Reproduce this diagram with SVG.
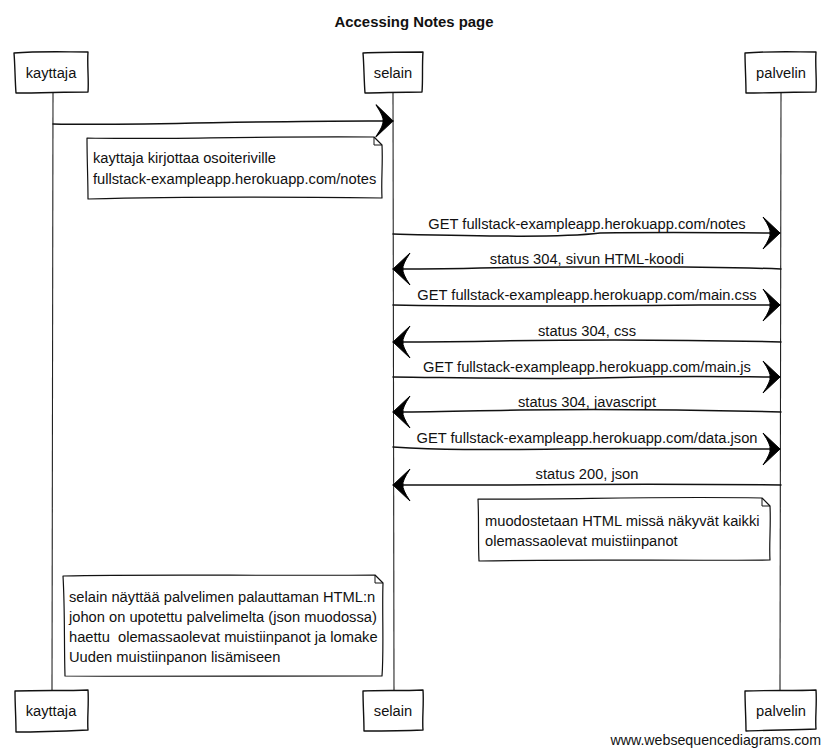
<svg xmlns="http://www.w3.org/2000/svg" width="830" height="755" viewBox="0 0 830 755">
  <style>
    text { font-family: "Liberation Sans", Arial, sans-serif; font-size: 14.7px; fill: #111; }
    .title { font-size: 14.9px; font-weight: bold; text-anchor: middle; }
    .lbl { text-anchor: middle; }
    .actor text { text-anchor: middle; }
    .foot { font-size: 14.2px; text-anchor: end; }
    .box { fill: #fff; stroke: #111; stroke-width: 1.4; stroke-linejoin: round; }
    .life { fill: none; stroke: #222; stroke-width: 1.1; }
    .msg { fill: none; stroke: #111; stroke-width: 1.5; stroke-linecap: round; }
    .note { fill: #fff; stroke: #111; stroke-width: 1.2; stroke-linejoin: round; }
    .fold { fill: none; stroke: #111; stroke-width: 1; }
  </style>
  <defs>
    <marker id="head" markerUnits="userSpaceOnUse" markerWidth="30" markerHeight="40" viewBox="-20 -20 22 40" refX="0" refY="0" orient="auto">
      <path d="M0,0 L-17,-16 Q-9,-4 -10,0 Q-9,4 -17,16 Z" fill="#000" stroke="#000" stroke-width="1" stroke-linejoin="round"/>
    </marker>
  </defs>

  <rect width="830" height="755" fill="#fff"/>
  <text class="title" x="414" y="27">Accessing Notes page</text>

  <!-- lifelines -->
  <g id="lifelines">
    <path class="life" d="M53,93 C53,300 52,500 52,690"/>
    <path class="life" d="M393,92 C394,300 393,500 394,690"/>
    <path class="life" d="M781,92 C780,300 781,500 780,690"/>
  </g>

  <!-- participants, top and bottom -->
  <g id="kayttaja" class="actor">
    <path class="box" d="M14,53 C40,51 65,52 88,52 C87,65 89,80 88,92 C65,92 40,93 16,93 C15,80 15,65 14,53 Z"/>
    <text x="51" y="78">kayttaja</text>
    <path class="box" d="M15,691 C40,690 65,691 88,690 C89,705 87,718 88,730 C65,731 40,732 16,732 C16,718 15,705 15,691 Z"/>
    <text x="51" y="716">kayttaja</text>
  </g>
  <g id="selain" class="actor">
    <path class="box" d="M363,53 C380,52 400,52 423,52 C422,65 423,80 422,92 C400,92 380,93 365,93 C364,80 364,65 363,53 Z"/>
    <text x="393" y="78">selain</text>
    <path class="box" d="M363,691 C380,690 400,691 423,690 C424,705 422,718 423,730 C400,731 380,731 364,731 C364,718 363,705 363,691 Z"/>
    <text x="393" y="716">selain</text>
  </g>
  <g id="palvelin" class="actor">
    <path class="box" d="M745,53 C770,51 795,52 816,52 C815,65 817,80 816,92 C795,92 770,93 746,93 C746,80 745,65 745,53 Z"/>
    <text x="781" y="78">palvelin</text>
    <path class="box" d="M745,691 C770,690 795,691 816,690 C817,705 815,718 816,729 C795,730 770,730 746,731 C746,718 745,705 745,691 Z"/>
    <text x="781" y="716">palvelin</text>
  </g>

  <!-- messages -->
  <g id="connectors">
    <path class="msg" marker-end="url(#head)" d="M53,124 C150,126 260,120 393,121"/>
    <path class="msg" marker-end="url(#head)" d="M393,234 C480,236 560,238 600,233 C680,232 740,233 780,233"/>
    <path class="msg" marker-end="url(#head)" d="M781,269 C700,266 600,266 480,268 C450,269 420,269 393,269"/>
    <path class="msg" marker-end="url(#head)" d="M393,305 C500,307 600,306 700,305 C740,305 760,305 780,305"/>
    <path class="msg" marker-end="url(#head)" d="M781,342 C700,340 600,339 500,341 C450,342 420,342 393,342"/>
    <path class="msg" marker-end="url(#head)" d="M393,377 C480,378 560,380 640,377 C700,376 750,377 780,377"/>
    <path class="msg" marker-end="url(#head)" d="M781,412 C700,410 600,409 520,410 C460,411 420,412 393,412"/>
    <path class="msg" marker-end="url(#head)" d="M393,447 C440,450 480,450 560,449 C650,448 720,449 780,449"/>
    <path class="msg" marker-end="url(#head)" d="M781,485 C700,484 600,484 500,485 C450,485 420,485 393,485"/>
  </g>

  <!-- message labels -->
  <g id="labels">
    <text class="lbl" x="587" y="229">GET fullstack-exampleapp.herokuapp.com/notes</text>
    <text class="lbl" x="587" y="264">status 304, sivun HTML-koodi</text>
    <text class="lbl" x="587" y="300">GET fullstack-exampleapp.herokuapp.com/main.css</text>
    <text class="lbl" x="587" y="336">status 304, css</text>
    <text class="lbl" x="587" y="372">GET fullstack-exampleapp.herokuapp.com/main.js</text>
    <text class="lbl" x="587" y="407">status 304, javascript</text>
    <text class="lbl" x="587" y="443">GET fullstack-exampleapp.herokuapp.com/data.json</text>
    <text class="lbl" x="587" y="479">status 200, json</text>
  </g>

  <!-- notes -->
  <g id="note1">
    <path class="note" d="M87,138 C150,140 250,136 374,137 L382,145 C383,165 381,180 382,198 C300,197 200,196 88,199 C88,180 87,160 87,138 Z"/>
    <path class="fold" d="M374,137 L374,145 L382,145"/>
    <text x="93" y="163">kayttaja kirjottaa osoiteriville</text>
    <text x="93" y="184">fullstack-exampleapp.herokuapp.com/notes</text>
  </g>
  <g id="note2">
    <path class="note" d="M478,499 C560,500 650,496 762,498 L770,506 C771,525 769,545 770,560 C680,561 580,559 479,561 C478,540 479,520 478,499 Z"/>
    <path class="fold" d="M762,498 L762,506 L770,506"/>
    <text x="485" y="526">muodostetaan HTML missä näkyvät kaikki</text>
    <text x="485" y="546">olemassaolevat muistiinpanot</text>
  </g>
  <g id="note3">
    <path class="note" d="M63,576 C150,574 260,576 375,575 L383,583 C382,610 384,650 382,676 C300,675 180,677 65,676 C64,640 65,610 63,576 Z"/>
    <path class="fold" d="M375,575 L375,583 L383,583"/>
    <text x="69" y="602">selain näyttää palvelimen palauttaman HTML:n</text>
    <text x="69" y="622">johon on upotettu palvelimelta (json muodossa)</text>
    <text x="69" y="642" xml:space="preserve">haettu  olemassaolevat muistiinpanot ja lomake</text>
    <text x="69" y="662">Uuden muistiinpanon lisämiseen</text>
  </g>

  <text class="foot" x="821" y="745">www.websequencediagrams.com</text>
</svg>
